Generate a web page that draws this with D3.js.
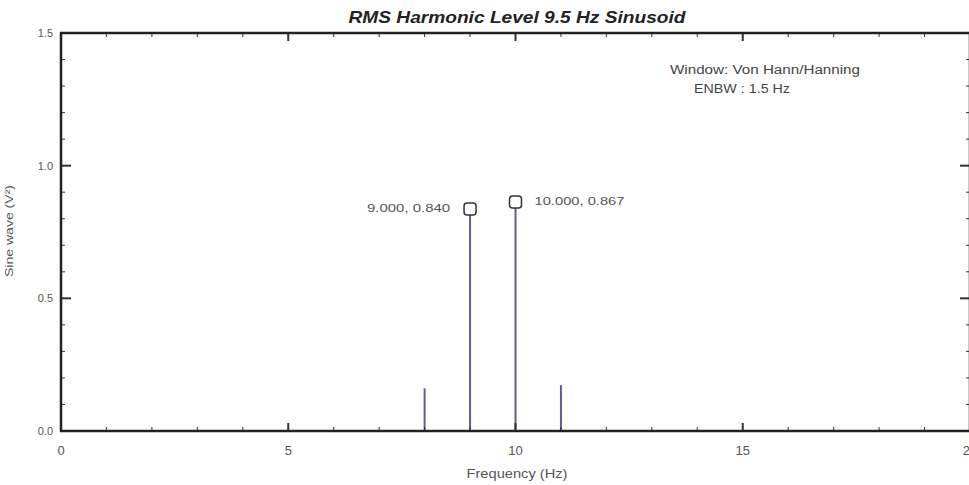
<!DOCTYPE html>
<html><head><meta charset="utf-8">
<script src="https://cdn.jsdelivr.net/npm/d3@7"></script>
<style>body{margin:0;background:#fff}svg{display:block}</style>
</head><body>
<script>
const freqs = [8, 9, 10, 11];
const levels = [0.161, 0.840, 0.867, 0.173];
const markedFreqs = [9, 10];
const markedLabels = ["9.000, 0.840", "10.000, 0.867"];
const xTicks = [0, 5, 10, 15, 20];
const yTicks = [0.0, 0.5, 1.0, 1.5];
const yTickLabels = ["0.0", "0.5", "1.0", "1.5"];
const notes = ["Window: Von Hann/Hanning", "ENBW : 1.5 Hz"];

const W = 969, H = 485;
const svg = d3.select("body").append("svg").attr("width", W).attr("height", H);
const x = d3.scaleLinear().domain([0, 20]).range([61, 970]);
const y = d3.scaleLinear().domain([0, 1.5]).range([431, 33]);
const font = "Arial, 'Liberation Sans', sans-serif";

// title
svg.append("text").attr("x", 517).attr("y", 23).attr("text-anchor", "middle")
  .attr("font-family", font).attr("font-size", 17).attr("font-weight", "bold")
  .attr("font-style", "italic").attr("fill", "#222")
  .attr("textLength", 337).attr("lengthAdjust", "spacingAndGlyphs")
  .text("RMS Harmonic Level 9.5 Hz Sinusoid");

// bars
svg.selectAll("line.bar").data(freqs).join("line").attr("class", "bar")
  .attr("x1", d => x(d)).attr("x2", d => x(d))
  .attr("y1", y(0)).attr("y2", (d, i) => y(levels[i]))
  .attr("stroke", "#5c5c9c").attr("stroke-width", 2);

// ticks
const minorX = d3.range(0, 21, 1);
const minorY = d3.range(0, 1.51, 0.1);
const tg = svg.append("g").attr("stroke", "#333");
minorX.forEach(v => {
  const major = Math.abs(v % 5) < 1e-6;
  const len = major ? 8 : 4;
  tg.append("line").attr("x1", x(v)).attr("x2", x(v)).attr("y1", y(0)).attr("y2", y(0) - len).attr("stroke-width", major ? 2 : 1);
  tg.append("line").attr("x1", x(v)).attr("x2", x(v)).attr("y1", y(1.5)).attr("y2", y(1.5) + len).attr("stroke-width", major ? 2 : 1);
});
minorY.forEach(v => {
  const r = Math.round(v * 10);
  const major = r % 5 === 0;
  const len = major ? 10 : 4;
  tg.append("line").attr("y1", y(v)).attr("y2", y(v)).attr("x1", x(0)).attr("x2", x(0) + len).attr("stroke-width", major ? 2 : 1);
  tg.append("line").attr("y1", y(v)).attr("y2", y(v)).attr("x1", x(20)).attr("x2", x(20) - len).attr("stroke-width", major ? 2 : 1);
});

// frame
svg.append("rect").attr("x", x(0)).attr("y", y(1.5)).attr("width", x(20) - x(0)).attr("height", y(0) - y(1.5))
  .attr("fill", "none").attr("stroke", "#222").attr("stroke-width", 2.5);

// tick labels
svg.selectAll("text.xt").data(xTicks).join("text").attr("class", "xt")
  .attr("x", d => x(d)).attr("y", 455).attr("text-anchor", "middle")
  .attr("font-family", font).attr("font-size", 13).attr("fill", "#555").text(d => d);
svg.selectAll("text.yt").data(yTicks).join("text").attr("class", "yt")
  .attr("x", 53).attr("y", d => y(d) + 4).attr("text-anchor", "end")
  .attr("font-family", font).attr("font-size", 11).attr("fill", "#555").text((d, i) => yTickLabels[i]);

// axis titles
svg.append("text").attr("x", 517).attr("y", 478).attr("text-anchor", "middle")
  .attr("font-family", font).attr("font-size", 12).attr("fill", "#555")
  .attr("textLength", 101).attr("lengthAdjust", "spacingAndGlyphs").text("Frequency (Hz)");
svg.append("text").attr("transform", "translate(13,231) rotate(-90)").attr("text-anchor", "middle")
  .attr("font-family", font).attr("font-size", 11).attr("fill", "#555")
  .attr("textLength", 92).attr("lengthAdjust", "spacingAndGlyphs").text("Sine wave (V²)");

// markers
markedFreqs.forEach((f, i) => {
  const v = levels[freqs.indexOf(f)];
  svg.append("rect").attr("x", x(f) - 6).attr("y", y(v) - 5).attr("width", 12).attr("height", 12)
    .attr("rx", 3).attr("fill", "#fff").attr("stroke", "#333").attr("stroke-width", 1.5);
  const left = i === 0;
  svg.append("text").attr("x", left ? x(f) - 20 : x(f) + 19).attr("y", y(v) + 4)
    .attr("text-anchor", left ? "end" : "start")
    .attr("font-family", font).attr("font-size", 11).attr("fill", "#555")
    .attr("textLength", left ? 83 : 90).attr("lengthAdjust", "spacingAndGlyphs")
    .text(markedLabels[i]);
});

// notes
svg.append("text").attr("x", 670).attr("y", 74)
  .attr("font-family", font).attr("font-size", 12).attr("fill", "#444")
  .attr("textLength", 190).attr("lengthAdjust", "spacingAndGlyphs").text(notes[0]);
svg.append("text").attr("x", 694).attr("y", 93)
  .attr("font-family", font).attr("font-size", 12).attr("fill", "#444")
  .attr("textLength", 96).attr("lengthAdjust", "spacingAndGlyphs").text(notes[1]);
</script>
</body></html>
